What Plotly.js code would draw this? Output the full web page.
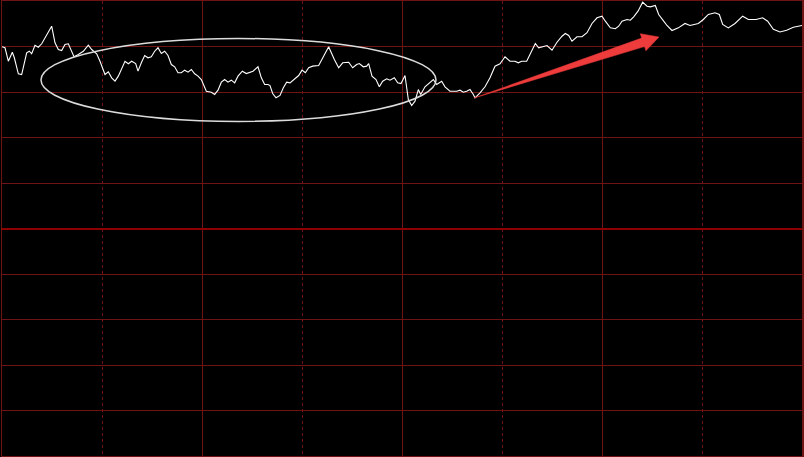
<!DOCTYPE html>
<html>
<head>
<meta charset="utf-8">
<script src="https://cdn.plot.ly/plotly-3.0.1.min.js"></script>
<style>html,body{margin:0;padding:0;background:#000;}#chart{width:804px;height:457px;}</style>
</head>
<body>
<div id="chart"></div>
<script>
// Minutes since open (0..240) and percent change vs previous close
const minutes = [0,0.9,1.9,3.1,3.7,4.9,5.9,7.4,8.2,8.9,9.9,10.9,11.9,13.4,14.9,15.9,16.9,17.9,18.9,19.9,20.9,21.6,22.9,24.4,25.9,26.9,28.4,29.4,30.9,31.9,32.9,33.9,34.9,36.9,37.9,38.9,
40.1,40.8,41.8,42.8,43.8,44.8,45.8,46.8,47.8,48.8,49.8,50.8,51.8,52.8,53.8,54.8,55.8,56.8,57.8,58.8,59.8,60.5,61.3,62.8,63.8,64.8,65.8,66.8,67.8,68.8,69.8,70.8,72.1,73.3,74.3,75.3,76.8,77.8,78.8,
79.8,80.4,81.2,82.2,83.4,84.4,85.4,86.4,87.7,89.0,90.0,91.0,92.0,93.2,95.0,96.4,98.0,99.7,101.0,102.2,104.0,105.2,106.4,107.2,108.4,109.4,110.0,111.0,112.2,113.2,114.2,115.4,116.4,117.7,118.7,119.7,
120.9,121.9,122.9,123.9,124.9,125.6,126.9,129.4,130.4,131.9,132.9,134.4,136.4,137.4,138.4,139.4,140.4,141.4,141.9,143.4,144.9,146.4,147.9,149.4,150.9,152.4,153.9,154.9,155.9,157.4,158.9,
160.0,161.0,162.5,163.5,165.0,166.5,168.0,169.0,170.0,171.0,172.5,174.0,175.5,177.0,178.5,180.0,181.0,182.5,184.0,185.0,186.0,187.5,188.5,189.5,190.8,192.2,193.5,194.5,196.0,197.0,198.5,199.5,
201.0,202.9,204.9,206.4,208.9,210.4,211.9,213.9,215.2,216.2,217.9,219.9,222.2,223.9,226.2,228.2,229.7,231.4,233.4,235.4,237.4,240];
const pctChange = [1.997,1.986,1.838,1.937,1.876,1.700,1.692,1.931,1.948,1.920,2.014,1.992,2.030,2.132,2.223,2.041,1.967,1.956,2.022,2.030,1.948,1.887,1.912,1.948,2.014,1.967,1.920,1.838,1.692,1.722,1.656,1.619,1.674,1.838,1.810,1.838,
1.813,1.729,1.821,1.901,1.876,1.887,1.948,1.986,1.923,1.948,1.901,1.802,1.777,1.711,1.711,1.740,1.718,1.747,1.700,1.674,1.637,1.582,1.509,1.498,1.473,1.520,1.608,1.637,1.608,1.630,1.601,1.674,1.729,1.703,1.718,1.729,1.777,1.656,1.582,
1.582,1.571,1.484,1.436,1.462,1.546,1.608,1.601,1.637,1.681,1.740,1.711,1.766,1.784,1.791,1.893,1.997,1.857,1.766,1.821,1.827,1.766,1.802,1.813,1.777,1.784,1.813,1.674,1.637,1.557,1.619,1.645,1.630,1.656,1.601,1.593,
1.681,1.418,1.352,1.399,1.527,1.473,1.557,1.637,1.582,1.619,1.557,1.509,1.509,1.520,1.498,1.509,1.527,1.473,1.436,1.491,1.557,1.656,1.784,1.810,1.887,1.838,1.838,1.821,1.838,1.838,1.948,
2.033,1.986,2.003,2.011,1.959,2.047,2.113,2.143,2.121,2.058,2.107,2.107,2.151,2.253,2.315,2.333,2.278,2.205,2.195,2.223,2.278,2.297,2.289,2.326,2.388,2.487,2.443,2.436,2.451,2.352,2.278,2.231,
2.176,2.205,2.253,2.231,2.253,2.297,2.352,2.370,2.352,2.242,2.205,2.253,2.333,2.297,2.297,2.315,2.278,2.190,2.159,2.179,2.211,2.231];

const gridColor = '#6f1414';
const trace = {
  x: minutes, y: pctChange, type: 'scatter', mode: 'lines',
  line: {color: '#ffffff', width: 1.1}, hoverinfo: 'skip', showlegend: false
};

const layout = {
  width: 804, height: 457,
  margin: {l: 2, r: 2, t: 1, b: 1, pad: 0},
  paper_bgcolor: '#000000', plot_bgcolor: '#000000',
  showlegend: false,
  xaxis: {
    range: [0, 240], tick0: 0, dtick: 60, showticklabels: false, ticks: '',
    showgrid: true, gridcolor: gridColor, gridwidth: 1,
    minor: {dtick: 30, tick0: 0, showgrid: true, gridcolor: gridColor, gridwidth: 1, griddash: 'dot'},
    zeroline: false, showline: true, mirror: true, linecolor: gridColor, linewidth: 1.5, fixedrange: true
  },
  yaxis: {
    range: [-2.5, 2.5], tick0: 0, dtick: 0.5, showticklabels: false, ticks: '',
    showgrid: true, gridcolor: gridColor, gridwidth: 1,
    zeroline: true, zerolinecolor: '#8e0000', zerolinewidth: 2,
    showline: true, mirror: true, linecolor: gridColor, linewidth: 1.5, fixedrange: true
  },
  shapes: [
    {type: 'circle', xref: 'x', yref: 'y', x0: 11.7, x1: 130.2, y0: 1.176, y1: 2.088,
     line: {color: '#dcdcdc', width: 1.5}, fillcolor: 'rgba(0,0,0,0)'},
    {type: 'path', xref: 'x', yref: 'y',
     path: 'M 141.6,1.434 L 191.91,2.093 L 191.49,2.141 L 197.1,2.104 L 193.17,1.952 L 192.75,1.999 Z',
     line: {color: '#ee3b3b', width: 0.5}, fillcolor: '#ee3b3b'}
  ]
};

Plotly.newPlot('chart', [trace], layout, {displayModeBar: false, staticPlot: true});
</script>
</body>
</html>
